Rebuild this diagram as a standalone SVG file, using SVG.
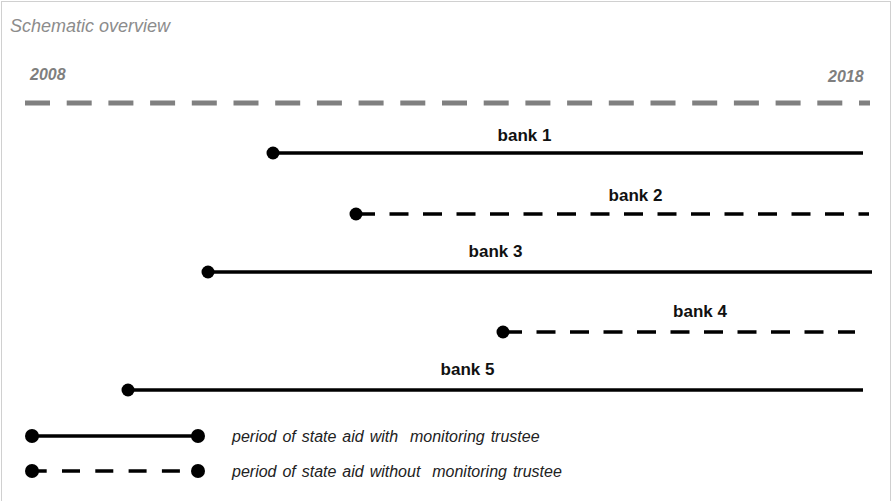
<svg xmlns="http://www.w3.org/2000/svg" width="893" height="501" viewBox="0 0 893 501">
<style>
.frame{fill:#fff;stroke:#d0d0d0;stroke-width:1}
.title{font-family:"Liberation Sans",Arial,sans-serif;font-style:italic;font-size:18px;fill:#8c8c8c}
.year{font-family:"Liberation Sans",Arial,sans-serif;font-style:italic;font-weight:bold;font-size:16px;fill:#7f7f7f}
.axis{stroke:#808080;stroke-width:5;stroke-dasharray:25 16.7;fill:none}
.lbl{font-family:"Liberation Sans",Arial,sans-serif;font-weight:bold;font-size:17px;fill:#111;text-anchor:middle}
.solid{stroke:#000;stroke-width:3.5;fill:none}
.dash{stroke:#000;stroke-width:3.5;fill:none;stroke-dasharray:19 14.5}
.dot{fill:#000}
.leg{font-family:"Liberation Sans",Arial,sans-serif;font-style:italic;font-size:16px;word-spacing:1.5px;fill:#222}
</style>
<rect class="frame" x="1.5" y="1.5" width="889" height="505"/>
<text class="title" x="10" y="32">Schematic overview</text>
<g id="axis">
<text class="year" x="30" y="80">2008</text>
<text class="year" x="828" y="82">2018</text>
<line class="axis" x1="25" y1="103" x2="870" y2="103"/>
</g>
<g id="connectors">
<line class="solid" x1="273" y1="153" x2="863" y2="153"/>
<line class="dash" x1="356" y1="214" x2="869" y2="214"/>
<line class="solid" x1="208" y1="272" x2="872" y2="272"/>
<line class="dash" x1="503" y1="332" x2="855" y2="332"/>
<line class="solid" x1="128" y1="390" x2="863" y2="390"/>
</g>
<g id="bank1"><circle class="dot" cx="273" cy="153" r="6.5"/><text class="lbl" x="524.5" y="141">bank 1</text></g>
<g id="bank2"><circle class="dot" cx="356" cy="214" r="6.5"/><text class="lbl" x="635.5" y="201">bank 2</text></g>
<g id="bank3"><circle class="dot" cx="208" cy="272" r="6.5"/><text class="lbl" x="495.5" y="257">bank 3</text></g>
<g id="bank4"><circle class="dot" cx="503" cy="332" r="6.5"/><text class="lbl" x="700" y="317">bank 4</text></g>
<g id="bank5"><circle class="dot" cx="128" cy="390" r="6.5"/><text class="lbl" x="467.5" y="375">bank 5</text></g>
<g id="legend-with">
<line class="solid" x1="32" y1="436" x2="198" y2="436"/>
<circle class="dot" cx="32" cy="436" r="7"/><circle class="dot" cx="198" cy="436" r="7"/>
<text class="leg" x="232" y="442" xml:space="preserve">period of state aid with  monitoring trustee</text>
</g>
<g id="legend-without">
<line class="dash" x1="32" y1="471" x2="198" y2="471" style="stroke-dasharray:18 15.3;stroke-dashoffset:3.3"/>
<circle class="dot" cx="32" cy="471" r="7"/><circle class="dot" cx="198" cy="471" r="7"/>
<text class="leg" x="232" y="477" xml:space="preserve">period of state aid without  monitoring trustee</text>
</g>
</svg>
